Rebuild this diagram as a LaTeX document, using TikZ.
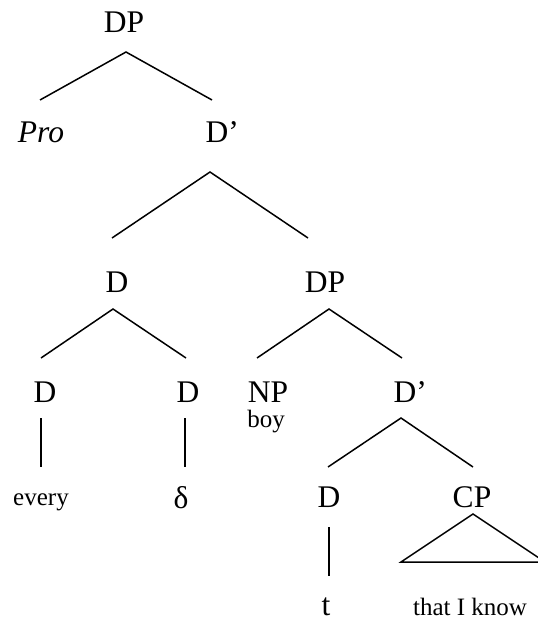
\documentclass[tikz,border=0pt]{standalone}
\usepackage{fontspec}
\setmainfont{Liberation Serif}
\usetikzlibrary{calc}

\begin{document}
\begin{tikzpicture}[x=0.4pt,y=-0.4pt,line width=0.6pt,
  cat/.style={anchor=base,inner sep=0pt,font=\fontsize{12.6}{14}\selectfont},
  wrd/.style={anchor=base,inner sep=0pt,font=\fontsize{10}{12}\selectfont}]
  \useasboundingbox (0,0) rectangle (538,619);
  \clip (0,0) rectangle (538,619);
  % labels
  \node[cat] (dpA) at (124,33) {DP};
  \node[cat] (pro) at (41,143) {\textit{Pro}};
  \node[cat] (dbA) at (217,143) {D\rlap{’}};
  \node[cat] (dB) at (117,292) {D};
  \node[cat] (dpB) at (325,292) {DP};
  \node[cat] (dC) at (45,402) {D};
  \node[cat] (dD) at (188,402) {D};
  \node[cat] (np) at (268,402) {NP};
  \node[wrd] (boy) at (266,427) {boy};
  \node[cat] (dbB) at (405,402) {D\rlap{’}};
  \node[wrd] (every) at (41,505) {every};
  \node[cat] (delta) at (181,508) {δ};
  \node[cat] (dE) at (329,507) {D};
  \node[cat] (cp) at (472,507) {CP};
  \node[cat] (t) at (326,615) {t};
  \node[wrd] (tik) at (470,615) {that I know};
  % branches
  \draw ($(pro.base)+(-1,-43)$) -- ($(dpA.base)+(2,19)$) -- ($(dbA.base)+(-5,-43)$);
  \draw ($(dB.base)+(-5,-54)$) -- ($(dbA.base)+(-7,29)$) -- ($(dpB.base)+(-17,-54)$);
  \draw ($(dC.base)+(-4,-44)$) -- ($(dB.base)+(-4,17)$) -- ($(dD.base)+(-2,-44)$);
  \draw ($(np.base)+(-11,-44)$) -- ($(dpB.base)+(4,17)$) -- ($(dbB.base)+(-3,-44)$);
  \draw ($(dE.base)+(-1,-40)$) -- ($(dbB.base)+(-4,16)$) -- ($(cp.base)+(1,-40)$);
  \draw ($(dC.base)+(-4,16)$) -- ($(every.base)+(0,-38)$);
  \draw ($(dD.base)+(-3,16)$) -- ($(delta.base)+(4,-41)$);
  \draw ($(dE.base)+(0,20)$) -- ($(t.base)+(3,-39)$);
  % roof over CP
  \draw ($(cp.base)+(1,7)$) -- ($(cp.base)+(-71,55)$) -- ($(cp.base)+(73,55)$) -- cycle;
\end{tikzpicture}
\end{document}
